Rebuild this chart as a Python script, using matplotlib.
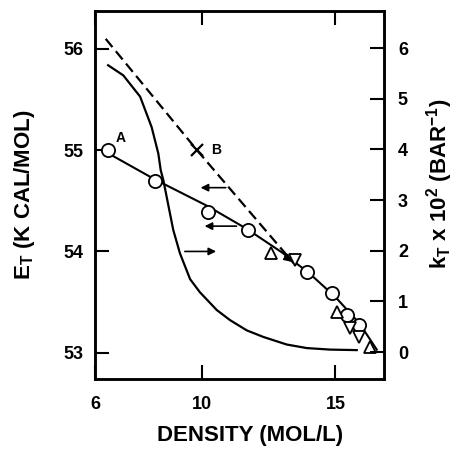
import matplotlib
matplotlib.use('Agg')
import matplotlib.pyplot as plt

plt.rcParams['font.family'] = ['Liberation Sans', 'DejaVu Sans']
plt.rcParams['font.weight'] = 'bold'
plt.rcParams['mathtext.fontset'] = 'custom'
plt.rcParams['mathtext.rm'] = 'Liberation Sans:bold'
plt.rcParams['mathtext.it'] = 'Liberation Sans:bold'
plt.rcParams['mathtext.bf'] = 'Liberation Sans:bold'
plt.rcParams['mathtext.default'] = 'rm'

## E_T measured points (circles) and the line through them
x_circ = [6.49, 8.25, 10.23, 11.73, 13.94, 14.88, 15.44, 15.89]
y_circ = [55.0, 54.70, 54.39, 54.21, 53.80, 53.59, 53.37, 53.27]
x_fit = [6.49, 8.25, 10.2, 11.7, 13.0, 14.0, 15.0, 15.9, 16.55]
y_fit = [54.97, 54.71, 54.45, 54.22, 53.99, 53.79, 53.55, 53.29, 53.03]

## triangles
x_up = [12.6, 15.06, 16.3]
y_up = [53.98, 53.40, 53.06]
x_down = [13.5, 15.55, 15.9]
y_down = [53.92, 53.24, 53.15]

## dashed line through B
x_dash = [6.4, 9.82, 13.45]
y_dash = [56.1, 55.0, 53.88]
x_b, y_b = 9.82, 55.0

## k_T curve (right axis)
x_kt = [6.49, 7.06, 7.69, 8.12, 8.37, 8.46, 8.56, 8.93, 9.18, 9.56, 9.93,
        10.56, 11.06, 11.68, 12.3, 13.18, 13.93, 14.8, 15.8]
y_kt = [5.66, 5.46, 5.04, 4.44, 3.92, 3.59, 3.39, 2.41, 1.95, 1.44, 1.18,
        0.83, 0.63, 0.43, 0.30, 0.15, 0.08, 0.05, 0.04]

## arrows (tail, head) in E_T units
arrows = [((11.0, 54.63), (9.85, 54.63)),
          ((11.4, 54.25), (10.0, 54.25)),
          ((9.26, 54.0), (10.64, 54.0))]

fig = plt.figure(figsize=(4.6, 4.49), dpi=100)
ax = fig.add_axes([95/460, 1-379/449, 289/460, 368/449])
ax2 = ax.twinx()

ax.plot(x_fit, y_fit, color='black', linewidth=1.5, zorder=2)
ax.plot(x_circ, y_circ, linestyle='none', marker='o', markersize=9.5,
        markerfacecolor='white', markeredgecolor='black', markeredgewidth=1.3, zorder=3)
ax.plot(x_up, y_up, linestyle='none', marker='^', markersize=9,
        markerfacecolor='white', markeredgecolor='black', markeredgewidth=1.3, zorder=3)
ax.plot(x_down, y_down, linestyle='none', marker='v', markersize=9,
        markerfacecolor='white', markeredgecolor='black', markeredgewidth=1.3, zorder=3)
ax.plot(x_dash, y_dash, color='black', linewidth=1.6, linestyle=(0, (4.8, 2.4)), zorder=2)
ax.plot([x_b], [y_b], marker='x', color='black', markersize=8, markeredgewidth=1.6)
ax.annotate('', xy=(x_dash[-1], y_dash[-1]), xytext=(x_dash[-2] + 3.2, y_dash[-2] - 1.03),
            arrowprops=dict(arrowstyle='-|>', color='black', lw=1.2, mutation_scale=11))
ax.text(6.78, 55.08, 'A', fontsize=10, fontweight='bold')
ax.text(10.35, 55.0, 'B', fontsize=10, fontweight='bold', va='center')

for tail, head in arrows:
    ax.annotate('', xy=head, xytext=tail,
                arrowprops=dict(arrowstyle='-|>', color='black', lw=1.2, mutation_scale=11))

ax2.plot(x_kt, y_kt, color='black', linewidth=1.6)

ax.set_xlim(6, 16.82)
ax.set_ylim(52.74, 56.375)
ax2.set_ylim(-0.53, 6.73)
ax.set_xticks([6, 10, 15])
ax.set_yticks([53, 54, 55, 56])
ax2.set_yticks([0, 1, 2, 3, 4, 5, 6])

for s in ax.spines.values():
    s.set_linewidth(1.8)
for s in ax2.spines.values():
    s.set_linewidth(1.8)

ax.tick_params(axis='x', direction='in', length=10, width=1.5, top=True,
               labelsize=13, pad=12)
ax.tick_params(axis='y', direction='in', length=10, width=1.5, labelsize=13, pad=8)
ax2.tick_params(axis='y', direction='in', length=10, width=1.5, labelsize=13, pad=10)
for lab in ax.get_xticklabels() + ax.get_yticklabels() + ax2.get_yticklabels():
    lab.set_fontweight('bold')

ax.set_xlabel('DENSITY (MOL/L)', fontsize=16, fontweight='bold')
ax.xaxis.set_label_coords(0.536, -0.125)
ax.set_ylabel(r'E$_\mathrm{T}$ (K CAL/MOL)', fontsize=16, fontweight='bold')
ax.yaxis.set_label_coords(-0.20, 0.50)
ax2.set_ylabel(r'k$_\mathrm{T}$ x 10$^\mathrm{2}$ (BAR$^\mathrm{-1}$)', fontsize=16,
               fontweight='bold', rotation=90)
ax2.yaxis.set_label_coords(1.14, 0.53)

plt.savefig('out.png', dpi=100)
